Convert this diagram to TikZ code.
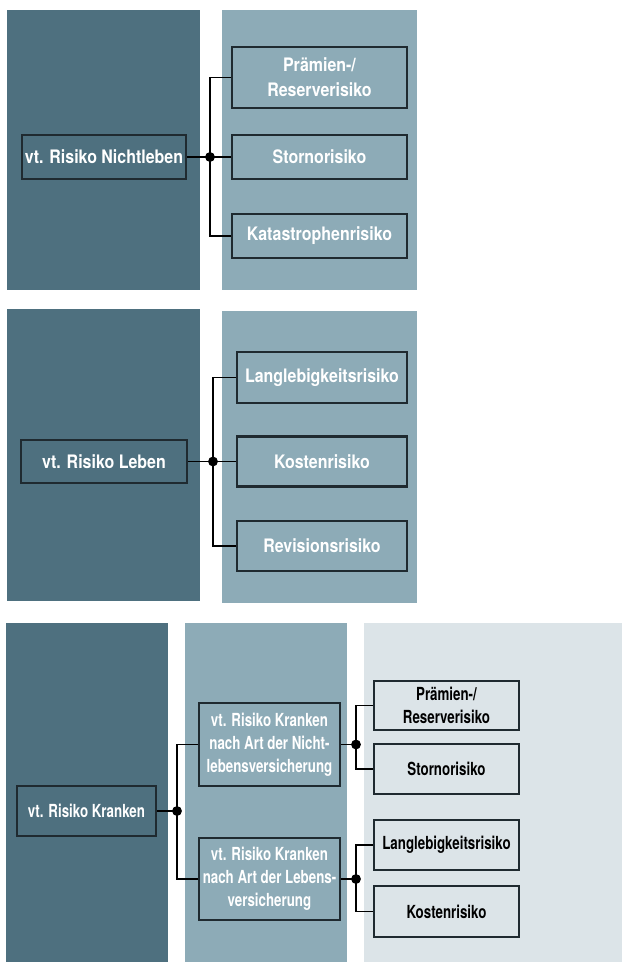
\documentclass[tikz,border=0pt]{standalone}
\usepackage{fontspec}
\setmainfont{TeX Gyre Heros}
\newfontfamily\riskfont[FakeStretch=0.86]{TeX Gyre Heros}
\newfontfamily\narrowfont[FakeStretch=0.74]{TeX Gyre Heros}
\definecolor{coldark}{RGB}{78,112,127}
\definecolor{colmid}{RGB}{141,171,183}
\definecolor{collight}{RGB}{220,228,232}
\definecolor{boxline}{RGB}{31,42,48}
\tikzset{
riskbox/.style={draw=boxline, line width=1.7pt, align=center, inner sep=0pt,
  text=white, font=\riskfont\bfseries\fontsize{13.2}{17.8}\selectfont},
kbox/.style={riskbox, font=\narrowfont\bfseries\fontsize{12.8}{16.4}\selectfont},
link/.style={line width=1.3pt, black},
}

\begin{document}
\begin{tikzpicture}[x=0.025cm, y=-0.025cm]
  \useasboundingbox (0,0) rectangle (622,962);
  % columns
  \fill[coldark] (7,10) rectangle (200,290);
  \fill[colmid] (222,10) rectangle (417,290);
  \fill[coldark] (7,309) rectangle (200,601);
  \fill[colmid] (222,311) rectangle (417,603);
  \fill[coldark] (6,623) rectangle (168,962);
  \fill[colmid] (185,623) rectangle (347,962);
  \fill[collight] (364,623) rectangle (622,962);

  % Nichtleben
  \node[riskbox, fill=coldark, minimum width=4.1cm, minimum height=1.1cm] (nl) at (104,157) {vt. Risiko Nichtleben};
  \node[riskbox, fill=colmid, minimum width=4.375cm, minimum height=1.525cm] (nl1) at (319.5,77.5) {Prämien-/\\Reserverisiko};
  \node[riskbox, fill=colmid, minimum width=4.375cm, minimum height=1.1cm] (nl2) at (319.5,157) {Stornorisiko};
  \node[riskbox, fill=colmid, minimum width=4.375cm, minimum height=1.1cm] (nl3) at (319.5,236) {Katastrophenrisiko};
  \coordinate (jnl) at (210,157);
  \draw[link] (nl.east) -- (nl2.west);
  \draw[link] (nl1.west) -| (jnl) |- (nl3.west);
  \fill (jnl) circle (3.5pt);

  % Leben
  \node[riskbox, fill=coldark, minimum width=4.15cm, minimum height=1.075cm] (lb) at (104,461.5) {vt. Risiko Leben};
  \node[riskbox, fill=colmid, minimum width=4.25cm, minimum height=1.275cm] (lb1) at (322,377.5) {Langlebigkeitsrisiko};
  \node[riskbox, fill=colmid, minimum width=4.25cm, minimum height=1.25cm] (lb2) at (322,461.5) {Kostenrisiko};
  \node[riskbox, fill=colmid, minimum width=4.25cm, minimum height=1.25cm] (lb3) at (322,546) {Revisionsrisiko};
  \coordinate (jlb) at (213,461.5);
  \draw[link] (lb.east) -- (lb2.west);
  \draw[link] (lb1.west) -| (jlb) |- (lb3.west);
  \fill (jlb) circle (3.5pt);

  % Kranken
  \node[kbox, fill=coldark, minimum width=3.475cm, minimum height=1.25cm] (kr) at (86.5,811) {vt. Risiko Kranken};
  \node[kbox, fill=colmid, minimum width=3.525cm, minimum height=2.075cm] (krn) at (269.5,744.5) {vt. Risiko Kranken\\nach Art der Nicht-\\lebensversicherung};
  \node[kbox, fill=colmid, minimum width=3.525cm, minimum height=2.05cm] (krl) at (269.5,879) {vt. Risiko Kranken\\nach Art der Lebens-\\versicherung};
  \coordinate (jkr) at (177,811);
  \draw[link] (kr.east) -- (jkr);
  \draw[link] (krn.west) -| (jkr) |- (krl.west);
  \fill (jkr) circle (3.5pt);

  \node[kbox, fill=collight, text=black, minimum width=3.625cm, minimum height=1.225cm] (krn1) at (446.5,705.5) {Prämien-/\\Reserverisiko};
  \node[kbox, fill=collight, text=black, minimum width=3.625cm, minimum height=1.25cm] (krn2) at (446.5,769) {Stornorisiko};
  \node[kbox, fill=collight, text=black, minimum width=3.625cm, minimum height=1.25cm] (krl1) at (446.5,845) {Langlebigkeitsrisiko};
  \node[kbox, fill=collight, text=black, minimum width=3.625cm, minimum height=1.275cm] (krl2) at (446.5,911.5) {Kostenrisiko};
  \coordinate (jkrn) at (356,744.5);
  \coordinate (jkrl) at (356,879);
  \draw[link] (krn.east) -- (jkrn);
  \draw[link] (krn1.west) -| (jkrn) |- (krn2.west);
  \draw[link] (krl.east) -- (jkrl);
  \draw[link] (krl1.west) -| (jkrl) |- (krl2.west);
  \fill (jkrn) circle (3.5pt);
  \fill (jkrl) circle (3.5pt);
\end{tikzpicture}
\end{document}
